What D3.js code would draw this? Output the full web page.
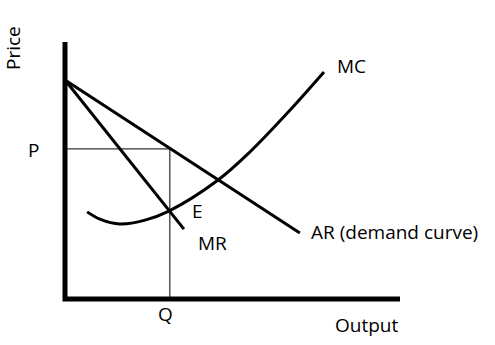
<!DOCTYPE html>
<html>
<head>
<meta charset="utf-8">
<script src="https://cdn.jsdelivr.net/npm/d3@7"></script>
<style>
  body { margin: 0; background: #fff; }
  text { font-family: "Open Sans", Lato, sans-serif; fill: #000; }
</style>
</head>
<body>
<svg width="495" height="345"></svg>
<script>
// values in chart units (output 0-10, price 0-10)
const arLine = [[0, 8.52], [7.01, 2.57]]
const mrLine = [[0, 8.52], [3.55, 2.72]]
const mcCurve = [
  [0.66, 3.39], [1.04, 3.11], [1.64, 2.92], [2.39, 3.07], [3.10, 3.42],
  [4.57, 4.63], [5.52, 5.72], [6.72, 7.35], [7.73, 8.83]
]
const priceP = 5.84
const outputQ = 3.13

const svg = d3.select('svg')

const x = d3.scaleLinear().domain([0, 10]).range([65, 400])
const y = d3.scaleLinear().domain([0, 10]).range([299, 42])

const line = d3.line()
  .x(d => x(d[0]))
  .y(d => y(d[1]))

// P and Q guide lines
svg.append('path')
  .attr('d', line([[0, priceP], [outputQ, priceP], [outputQ, 0]]))
  .attr('fill', 'none')
  .attr('stroke', '#000')
  .attr('stroke-width', 1)

const curves = svg.append('g')
  .attr('fill', 'none')
  .attr('stroke', '#000')
  .attr('stroke-width', 3)

curves.append('path').attr('d', line(arLine))
curves.append('path').attr('d', line(mrLine))
curves.append('path').attr('d', line.curve(d3.curveCatmullRom)(mcCurve))

// axes
svg.append('path')
  .attr('d', d3.line()([[x(0), y(10)], [x(0), y(0)], [x(10), y(0)]]))
  .attr('fill', 'none')
  .attr('stroke', '#000')
  .attr('stroke-width', 5)

const labels = [
  { t: 'MC', x: 337, y: 73 },
  { t: 'AR (demand curve)', x: 311, y: 239 },
  { t: 'E', x: 192, y: 218 },
  { t: 'MR', x: 198, y: 250 },
  { t: 'Q', x: 158, y: 321 },
  { t: 'P', x: 28, y: 157 },
  { t: 'Output', x: 335, y: 332 }
]

svg.append('g')
  .selectAll('text')
  .data(labels)
  .enter()
  .append('text')
  .attr('x', d => d.x)
  .attr('y', d => d.y)
  .attr('font-size', 19)
  .text(d => d.t)

svg.append('text')
  .attr('transform', 'translate(20,70) rotate(-90)')
  .attr('font-size', 19)
  .text('Price')
</script>
</body>
</html>
